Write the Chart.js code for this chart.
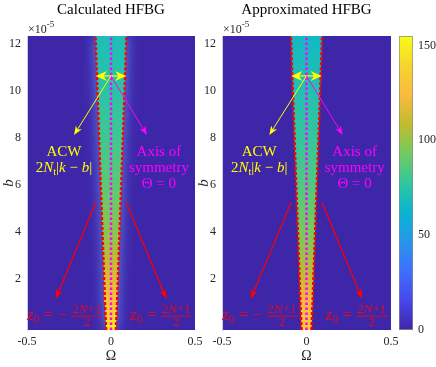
<!DOCTYPE html>
<html>
<head>
<meta charset="utf-8">
<script src="https://cdn.jsdelivr.net/npm/chart.js@4.4.0/dist/chart.umd.min.js"></script>
<style>
body { margin: 0; background: #fff; }
#wrap { position: relative; width: 436px; height: 367px; }
canvas { position: absolute; left: 0; top: 0; }
</style>
</head>
<body>
<div id="wrap">
  <canvas id="calc" width="436" height="367"></canvas>
  <canvas id="approx" width="436" height="367"></canvas>
  <canvas id="cbar" width="436" height="367"></canvas>
</div>
<script>
// values, b in units of 1e-5
const bRows = [-0.17, 1, 2, 3, 4, 6, 8, 10, 12.34];
const halfWidth = [0.029, 0.036, 0.041, 0.046, 0.051, 0.061, 0.071, 0.081, 0.092];
const calcLevel = [150, 130, 116, 106, 98, 88, 81, 75, 70];
const approxLevel = [138, 124, 110, 101, 94, 85, 78, 72, 66];
const omegaTicks = [-0.5, 0, 0.5];
const bTicks = [2, 4, 6, 8, 10, 12];
const cbarTicks = [0, 50, 100, 150];
const omegaRange = [-0.5, 0.5];
const bRange = [-0.17, 12.34];
const cbarRange = [0, 155];

const FONT = "'Liberation Serif', 'Times New Roman', serif";
const RED = '#ff0000', YEL = '#ffff00', MAG = '#ff00ff', RED_TXT = '#dd0a2a';

// parula colour map
const parula = [
  [62, 38, 168], [71, 71, 235], [62, 111, 255], [39, 150, 235], [8, 181, 208], [49, 198, 159],
  [113, 203, 97], [192, 188, 46], [251, 186, 61], [246, 212, 47], [249, 251, 21]
];
function colormap(v) {
  let t = (v - cbarRange[0]) / (cbarRange[1] - cbarRange[0]);
  t = Math.max(0, Math.min(1, t)) * (parula.length - 1);
  const i = Math.min(Math.floor(t), parula.length - 2), f = t - i;
  const c = parula[i].map((a, k) => Math.round(a + (parula[i + 1][k] - a) * f));
  return `rgb(${c[0]},${c[1]},${c[2]})`;
}

// where the annotations sit, in (Omega, b)
const notes = {
  arrowB: 10.64, arrowHalf: 0.09,
  acwTip: [-0.22, 8.13], symTip: [0.214, 8.13],
  acwText: [-0.28, 7.23, 6.55],
  symText: [0.285, 7.23, 6.55, 5.87],
  redFrom: [0.09, 5.28], redTip: [0.33, 1.15],
  zLeft: [-0.5, 0.25], zRight: [0.113, 0.25]
};

function fontOf(p) { return (p[2] ? 'italic ' : '') + p[1] + 'px ' + FONT; }
function textLine(c, parts, x, y, align) {
  let w = 0;
  parts.forEach(p => { c.font = fontOf(p); w += c.measureText(p[0]).width; });
  let cx = align === 'center' ? x - w / 2 : x;
  parts.forEach(p => {
    c.font = fontOf(p);
    c.fillText(p[0], cx, y + (p[3] || 0));
    cx += c.measureText(p[0]).width;
  });
  return w;
}

function arrow(c, x1, y1, x2, y2, color, lw, len, wid) {
  const a = Math.atan2(y2 - y1, x2 - x1);
  c.save();
  c.strokeStyle = color;
  c.fillStyle = color;
  c.lineWidth = lw;
  c.beginPath();
  c.moveTo(x1, y1);
  c.lineTo(x2 - Math.cos(a) * len * 0.6, y2 - Math.sin(a) * len * 0.6);
  c.stroke();
  c.translate(x2, y2);
  c.rotate(a);
  c.beginPath();
  c.moveTo(0, 0);
  c.lineTo(-len, -wid / 2);
  c.lineTo(-len * 0.7, 0);
  c.lineTo(-len, wid / 2);
  c.closePath();
  c.fill();
  c.restore();
}

function zLabel(c, x, y, neg) {
  let cx = x;
  cx += textLine(c, [['z', 17, true]], cx, y);
  cx += textLine(c, [['0', 12]], cx, y + 3);
  cx += textLine(c, [[neg ? ' = − ' : ' = ', 17]], cx, y);
  const num = [['2', 13], ['N', 13, true], ['+1', 13]];
  let nw = 0;
  num.forEach(p => { c.font = fontOf(p); nw += c.measureText(p[0]).width; });
  const fw = nw + 2;
  textLine(c, num, cx + fw / 2, y - 7, 'center');
  textLine(c, [['2', 13]], cx + fw / 2, y + 6, 'center');
  c.fillRect(cx, y - 4.5, fw, 1);
}

const bgPlugin = {
  id: 'bg',
  beforeDraw(chart) {
    const a = chart.chartArea, c = chart.ctx;
    c.save();
    c.fillStyle = colormap(0);
    c.fillRect(a.left, a.top, a.right - a.left, a.bottom - a.top);
    c.restore();
  }
};

// soft halo around the calculated band
const glowPlugin = {
  id: 'glow',
  beforeDatasetsDraw(chart) {
    const c = chart.ctx;
    c.save();
    c.shadowColor = 'rgba(100,160,255,0.85)';
    c.shadowBlur = 13;
  },
  afterDatasetDraw(chart, args) {
    if (args.index === 0) chart.ctx.restore();
  }
};

const notesPlugin = {
  id: 'notes',
  afterDraw(chart, args, opts) {
    const c = chart.ctx, xs = chart.scales.x, ys = chart.scales.y, a = chart.chartArea;
    const X = v => xs.getPixelForValue(v), Y = v => ys.getPixelForValue(v);
    const p = notes;
    c.save();
    c.textBaseline = 'alphabetic';
    c.textAlign = 'left';
    c.fillStyle = '#000';
    textLine(c, [[opts.title, 15]], (a.left + a.right) / 2, 14, 'center');
    c.fillStyle = '#262626';
    textLine(c, [['×10', 12], ['-5', 9, false, -6]], a.left + 1, 33);
    textLine(c, [['Ω', 14]], (a.left + a.right) / 2, 360, 'center');
    c.save();
    c.translate(a.left - 18, (a.top + a.bottom) / 2);
    c.rotate(-Math.PI / 2);
    textLine(c, [['b', 15, true]], 0, 4, 'center');
    c.restore();

    const ox = X(0), oy = Y(p.arrowB);
    arrow(c, ox, oy, X(-p.arrowHalf), oy, YEL, 1.2, 11, 10);
    arrow(c, ox, oy, X(p.arrowHalf), oy, YEL, 1.2, 11, 10);
    arrow(c, ox, oy, X(p.acwTip[0]), Y(p.acwTip[1]), YEL, 1, 9, 7);
    arrow(c, ox, oy, X(p.symTip[0]), Y(p.symTip[1]), MAG, 1, 9, 7);
    arrow(c, X(-p.redFrom[0]), Y(p.redFrom[1]), X(-p.redTip[0]), Y(p.redTip[1]), RED, 1.2, 10, 7);
    arrow(c, X(p.redFrom[0]), Y(p.redFrom[1]), X(p.redTip[0]), Y(p.redTip[1]), RED, 1.2, 10, 7);

    c.fillStyle = YEL;
    textLine(c, [['ACW', 15]], X(p.acwText[0]), Y(p.acwText[1]), 'center');
    textLine(c, [['2', 15], ['N', 15, true], ['t', 10.5, false, 3], ['|', 15], ['k', 15, true],
      [' − ', 15], ['b', 15, true], ['|', 15]], X(p.acwText[0]), Y(p.acwText[2]), 'center');
    c.fillStyle = MAG;
    textLine(c, [['Axis of', 15]], X(p.symText[0]), Y(p.symText[1]), 'center');
    textLine(c, [['symmetry', 15]], X(p.symText[0]), Y(p.symText[2]), 'center');
    textLine(c, [['Θ = 0', 15]], X(p.symText[0]), Y(p.symText[3]), 'center');
    c.fillStyle = RED_TXT;
    zLabel(c, X(p.zLeft[0]), Y(p.zLeft[1]), true);
    zLabel(c, X(p.zRight[0]), Y(p.zRight[1]), false);
    c.restore();
  }
};

function edge(sign) {
  return bRows.map((b, i) => ({ x: sign * halfWidth[i], y: b }));
}

function bandFill(levels) {
  return function (ctx) {
    const chart = ctx.chart;
    if (!chart.chartArea) return colormap(levels[0]);
    const y = chart.scales.y;
    const y0 = y.getPixelForValue(bRows[0]);
    const y1 = y.getPixelForValue(bRows[bRows.length - 1]);
    const g = chart.ctx.createLinearGradient(0, y0, 0, y1);
    bRows.forEach((b, i) => {
      g.addColorStop((y.getPixelForValue(b) - y0) / (y1 - y0), colormap(levels[i]));
    });
    return g;
  };
}

const tickFont = { family: FONT, size: 12 };

function heatChart(id, title, levels, padLeft, padRight, glow) {
  const plugins = [bgPlugin];
  if (glow) plugins.push(glowPlugin);
  plugins.push(notesPlugin);
  return new Chart(document.getElementById(id), {
    type: 'scatter',
    data: {
      datasets: [
        {
          data: edge(-1).concat(edge(1).reverse()),
          showLine: true, fill: 'shape', backgroundColor: bandFill(levels),
          borderWidth: 0, borderColor: 'transparent', pointRadius: 0, order: 5
        },
        {
          data: edge(-1), showLine: true, fill: false, borderColor: RED, borderWidth: 2.5,
          borderDash: [3, 2], borderCapStyle: 'butt', pointRadius: 0, order: 2
        },
        {
          data: edge(1), showLine: true, fill: false, borderColor: RED, borderWidth: 2.5,
          borderDash: [3, 2], borderCapStyle: 'butt', pointRadius: 0, order: 2
        },
        {
          data: [{ x: 0, y: bRange[0] }, { x: 0, y: bRange[1] }], showLine: true, fill: false,
          borderColor: MAG, borderWidth: 2.5, borderDash: [2.5, 2.5], borderCapStyle: 'butt',
          pointRadius: 0, order: 1
        }
      ]
    },
    options: {
      responsive: false,
      animation: false,
      devicePixelRatio: 1,
      layout: { padding: { left: padLeft, right: padRight, top: 36, bottom: 0 } },
      plugins: { legend: { display: false }, tooltip: { enabled: false }, notes: { title: title } },
      scales: {
        x: {
          type: 'linear', min: omegaRange[0], max: omegaRange[1],
          afterBuildTicks: s => { s.ticks = omegaTicks.map(v => ({ value: v })); },
          afterFit: s => { s.height = 37; },
          grid: { display: false, drawTicks: false },
          border: { display: false },
          ticks: { padding: 5, font: tickFont, color: '#262626', maxRotation: 0, callback: v => String(v) }
        },
        y: {
          type: 'linear', min: bRange[0], max: bRange[1],
          afterBuildTicks: s => { s.ticks = bTicks.map(v => ({ value: v })); },
          afterFit: s => { s.width = 27; },
          grid: { display: false, drawTicks: false },
          border: { display: true, color: '#c9c9e6', width: 1 },
          ticks: { padding: 6, font: tickFont, color: '#262626', callback: v => String(v) }
        }
      }
    },
    plugins: plugins
  });
}

heatChart('calc', 'Calculated HFBG', calcLevel, 0, 241, true);
heatChart('approx', 'Approximated HFBG', approxLevel, 195, 45, false);

// colour bar
new Chart(document.getElementById('cbar'), {
  type: 'bar',
  data: {
    labels: [''],
    datasets: [{
      data: [[cbarRange[0], cbarRange[1]]],
      backgroundColor: function (ctx) {
        const chart = ctx.chart;
        if (!chart.chartArea) return colormap(0);
        const y = chart.scales.y;
        const y0 = y.getPixelForValue(cbarRange[0]), y1 = y.getPixelForValue(cbarRange[1]);
        const g = chart.ctx.createLinearGradient(0, y0, 0, y1);
        parula.forEach((c, i) => g.addColorStop(i / (parula.length - 1), `rgb(${c[0]},${c[1]},${c[2]})`));
        return g;
      },
      borderColor: '#8c8c8c', borderWidth: 1, borderSkipped: false,
      barPercentage: 1, categoryPercentage: 1
    }]
  },
  options: {
    responsive: false,
    animation: false,
    devicePixelRatio: 1,
    layout: { padding: { left: 399, right: 0, top: 36, bottom: 37 } },
    plugins: { legend: { display: false }, tooltip: { enabled: false } },
    scales: {
      x: { display: false },
      y: {
        position: 'right', min: cbarRange[0], max: cbarRange[1],
        afterBuildTicks: s => { s.ticks = cbarTicks.map(v => ({ value: v })); },
        afterFit: s => { s.width = 23; },
        grid: { display: false, drawTicks: false },
        border: { display: false },
        ticks: { padding: 5, font: tickFont, color: '#262626' }
      }
    }
  }
});
</script>
</body>
</html>
